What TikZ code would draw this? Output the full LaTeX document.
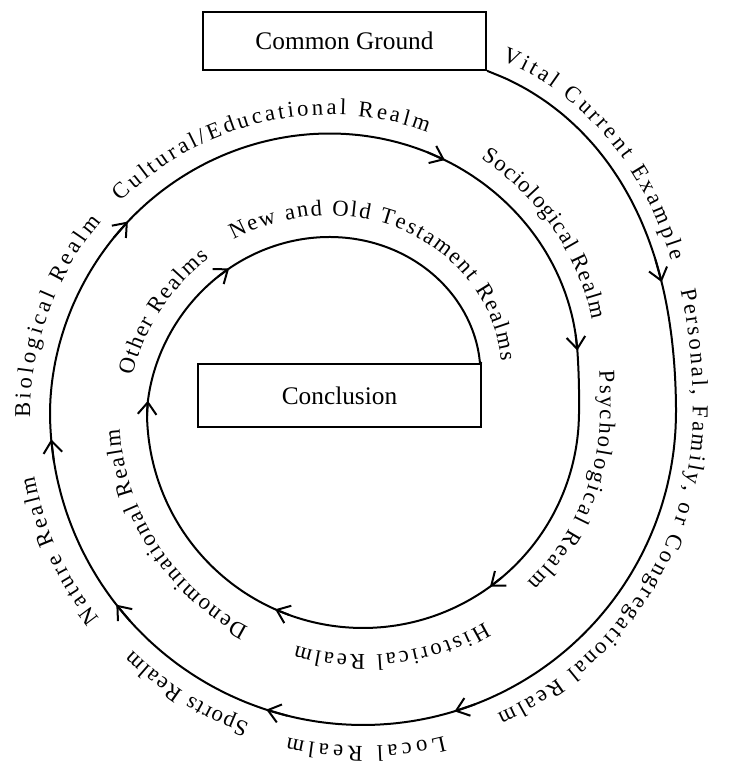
\documentclass[tikz,border=0pt]{standalone}
\usepackage{fontspec}
\setmainfont{Liberation Serif}
\usetikzlibrary{arrows.meta,decorations.text}

\tikzset{every picture/.style={line width=0.75pt}}
\tikzset{
  realmbox/.style={draw, line width=1.4pt, minimum width=212pt, inner sep=0pt, font=\fontsize{19}{22}\selectfont},
  spiral/.style={line width=1.5pt},
  barb/.style={line width=1.5pt, -{Straight Barb[length=9pt,width=14pt]}},
  realm/.style={decorate, decoration={text along path, text={|\fontsize{17}{19}\selectfont|#1}, text align={fit to path}}}
}

\begin{document}
\begin{tikzpicture}[x=0.75pt,y=0.75pt,
  declare function={
    ua(\t)=min(1,max(0.0001,(\t-250)/164));
    ud(\t)=min(17,max(0,\t-414));
    ub(\t)=max(0.0001,(\t-610)/157);
    spr(\t)=(\t<70)*(313+25*(1+cos(180*min(1,max(0,\t)/70))))+(\t>=70)*(\t<250)*313+(\t>=250)*(\t<414)*(313-90*ua(\t)*sqrt(ua(\t)))+(\t>=414)*(\t<431)*(223-0.823*ud(\t)+0.0242*ud(\t)*ud(\t))+(\t>=431)*(\t<610)*216+(\t>=610)*(216-89*ub(\t)*sqrt(sqrt(ub(\t))));
  }]
%set diagram frame, 732 x 770
\useasboundingbox (0,0) rectangle (732,770);

% Boxes
\node[realmbox, minimum height=43.5pt] (cg) at (344.5,729) {Common Ground};
\node[realmbox, minimum height=47pt] (concl) at (339.5,374.5) {Conclusion};

\begin{scope}[shift={(363,358)}]
%Spiral from Common Ground to Conclusion
\draw[spiral] (cg.south east) -- plot[domain=0:767, samples=220, smooth] ({70-\x}:{spr(\x)}) -- (concl.north east);
%Arrow heads along the spiral
\foreach \s in {46.5,143,178,212,245,289,358,414,484,544,613,657}
  \draw[barb] ({74-\s}:{spr(\s-4)}) -- ({70-\s}:{spr(\s)});

% Text along the spiral
\path[realm={Vital Current Example}] plot[domain=1.5:44, samples=22] ({70-\x}:{spr(\x)+15});
\path[realm={Personal, Family, or Congregational Realm}] plot[domain=49:136, samples=44] ({70-\x}:{spr(\x)+17});
\path[realm={Local Realm}] plot[domain=146:173, samples=14] ({70-\x}:{spr(\x)+21});
\path[realm={Sports Realm}] plot[domain=180:204, samples=13] ({70-\x}:{spr(\x)+19});
\path[realm={Nature Realm}] plot[domain=212:239, samples=14] ({70-\x}:{spr(\x)+22});
\path[realm={Biological Realm}] plot[domain=249:286, samples=19] ({70-\x}:{spr(\x)+20});
\path[realm={Cultural/Educational Realm}] plot[domain=291:353, samples=31] ({70-\x}:{spr(\x)+19});
\path[realm={Sociological Realm}] plot[domain=365:408, samples=22] ({70-\x}:{spr(\x)+19});
\path[realm={Psychological Realm}] plot[domain=420:476, samples=28] ({70-\x}:{spr(\x)+21});
\path[realm={Historical Realm}] plot[domain=490:536, samples=23] ({70-\x}:{spr(\x)+27});
\path[realm={Denominational Realm}] plot[domain=548:606, samples=29] ({70-\x}:{spr(\x)+28});
\path[realm={Other Realms}] plot[domain=619:655, samples=18] ({70-\x}:{spr(\x)+20});
\path[realm={New and Old Testament Realms}] plot[domain=663:770, samples=54] ({70-\x}:{spr(\x)+22});
\end{scope}

\end{tikzpicture}
\end{document}
